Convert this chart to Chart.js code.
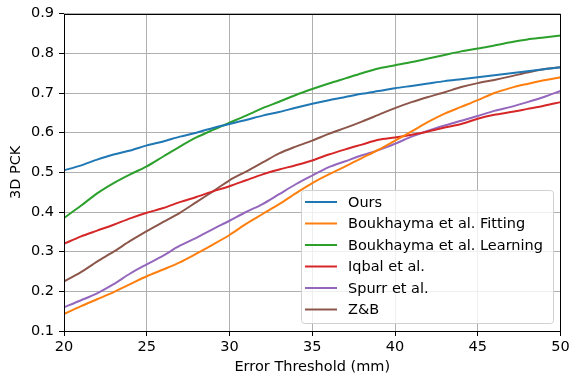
<!DOCTYPE html>
<html>
<head>
<meta charset="utf-8">
<script src="https://cdn.jsdelivr.net/npm/chart.js@4"></script>
<style>
  html, body { margin: 0; padding: 0; background: #fff; }
  #pck { display: block; }
</style>
</head>
<body>
<canvas id="pck" width="569" height="378"></canvas>
<script>
const thresholds = [20, 21, 22, 23, 24, 25, 26, 27, 28, 29, 30, 31, 32, 33, 34, 35, 36, 37, 38, 39, 40, 41, 42, 43, 44, 45, 46, 47, 48, 49, 50];

const ours = [0.505, 0.517, 0.532, 0.545, 0.555, 0.568, 0.578, 0.590, 0.600, 0.612, 0.622, 0.632, 0.643, 0.652, 0.663, 0.673, 0.682, 0.690, 0.698, 0.705, 0.712, 0.718, 0.724, 0.730, 0.735, 0.740, 0.745, 0.750, 0.755, 0.760, 0.765];
const boukFitting = [0.143, 0.162, 0.180, 0.198, 0.218, 0.238, 0.255, 0.273, 0.295, 0.318, 0.342, 0.370, 0.395, 0.420, 0.447, 0.473, 0.495, 0.515, 0.536, 0.557, 0.580, 0.603, 0.627, 0.648, 0.665, 0.682, 0.700, 0.713, 0.723, 0.732, 0.740];
const boukLearning = [0.385, 0.415, 0.447, 0.473, 0.495, 0.515, 0.540, 0.565, 0.588, 0.607, 0.625, 0.643, 0.662, 0.678, 0.695, 0.710, 0.724, 0.737, 0.750, 0.762, 0.770, 0.778, 0.787, 0.796, 0.805, 0.812, 0.820, 0.828, 0.835, 0.840, 0.845];
const iqbal = [0.320, 0.338, 0.353, 0.368, 0.384, 0.398, 0.410, 0.425, 0.438, 0.452, 0.465, 0.480, 0.495, 0.507, 0.518, 0.530, 0.545, 0.558, 0.570, 0.582, 0.588, 0.595, 0.603, 0.613, 0.622, 0.635, 0.645, 0.652, 0.660, 0.668, 0.677];
const spurr = [0.160, 0.177, 0.195, 0.218, 0.245, 0.268, 0.290, 0.315, 0.335, 0.357, 0.378, 0.400, 0.420, 0.445, 0.470, 0.492, 0.513, 0.528, 0.543, 0.556, 0.572, 0.590, 0.605, 0.618, 0.630, 0.642, 0.655, 0.665, 0.677, 0.690, 0.705];
const zb = [0.225, 0.248, 0.275, 0.300, 0.327, 0.352, 0.375, 0.398, 0.425, 0.452, 0.480, 0.502, 0.525, 0.548, 0.565, 0.580, 0.597, 0.612, 0.628, 0.645, 0.662, 0.677, 0.690, 0.702, 0.715, 0.725, 0.733, 0.742, 0.752, 0.760, 0.765];

const seriesNames = ["Ours", "Boukhayma et al. Fitting", "Boukhayma et al. Learning", "Iqbal et al.", "Spurr et al.", "Z&B"];
const seriesValues = [ours, boukFitting, boukLearning, iqbal, spurr, zb];
const seriesColors = ["#1f77b4", "#ff7f0e", "#2ca02c", "#d62728", "#9467bd", "#8c564b"];

const FONT = "'DejaVu Sans', sans-serif";
const FSIZE = 14.5;

// box around the plot + legend in the lower right, like matplotlib
const framePlugin = {
    id: "frame",
    afterDraw(chart) {
        const ctx = chart.ctx, a = chart.chartArea;
        ctx.save();
        ctx.strokeStyle = "#000";
        ctx.lineWidth = 1;
        ctx.strokeRect(Math.round(a.left) + 0.5, Math.round(a.top) + 0.5,
            Math.round(a.right - a.left) - 1, Math.round(a.bottom - a.top));

        // legend
        const bx = 301, by = 190, bw = 252, bh = 133, r = 3;
        ctx.beginPath();
        ctx.roundRect(bx + 0.5, by + 0.5, bw, bh, r);
        ctx.fillStyle = "rgba(255,255,255,0.8)";
        ctx.fill();
        ctx.strokeStyle = "#d0d0d0";
        ctx.stroke();

        ctx.font = FSIZE + "px " + FONT;
        ctx.textBaseline = "middle";
        ctx.textAlign = "left";
        chart.data.datasets.forEach((ds, i) => {
            const y = 202 + i * 21.5;
            ctx.beginPath();
            ctx.strokeStyle = ds.borderColor;
            ctx.lineWidth = 2;
            ctx.moveTo(305, y);
            ctx.lineTo(337, y);
            ctx.stroke();
            ctx.fillStyle = "#000";
            ctx.fillText(ds.label, 348, y + 1);
        });
        ctx.restore();
    }
};

window.onload = ()=> {
    new Chart("pck", {
        type: "line",
        data: {
            datasets: seriesNames.map((name, i) => ({
                label: name,
                data: thresholds.map((t, j) => ({x: t, y: seriesValues[i][j]})),
                borderColor: seriesColors[i],
                backgroundColor: seriesColors[i],
                borderWidth: 2,
                pointRadius: 0,
                tension: 0.3,
                fill: false
            }))
        },
        options: {
            responsive: false,
            animation: false,
            layout: {padding: {top: 9, right: 0, left: 0, bottom: 0}},
            plugins: {
                legend: {display: false},
                tooltip: {enabled: false}
            },
            scales: {
                x: {
                    type: "linear",
                    min: 20, max: 50,
                    afterFit: (s) => { s.height = 47; s.paddingRight = 8.5; },
                    ticks: {stepSize: 5, color: "#000", font: {family: FONT, size: FSIZE}, padding: 3},
                    grid: {color: "#b0b0b0", lineWidth: 1, tickColor: "#000", tickLength: 5},
                    border: {display: false},
                    title: {display: true, text: "Error Threshold (mm)", color: "#000",
                        font: {family: FONT, size: FSIZE}, padding: {top: 0, bottom: 2}}
                },
                y: {
                    min: 0.1, max: 0.9,
                    afterFit: (s) => { s.width = 64; },
                    ticks: {stepSize: 0.1, color: "#000", font: {family: FONT, size: FSIZE}, padding: 5,
                        callback: (v) => v.toFixed(1)},
                    grid: {color: "#b0b0b0", lineWidth: 1, tickColor: "#000", tickLength: 5},
                    border: {display: false},
                    title: {display: true, text: "3D PCK", color: "#000",
                        font: {family: FONT, size: FSIZE}, padding: {top: 8, bottom: 0}}
                }
            }
        },
        plugins: [framePlugin]
    });
};
</script>
</body>
</html>
